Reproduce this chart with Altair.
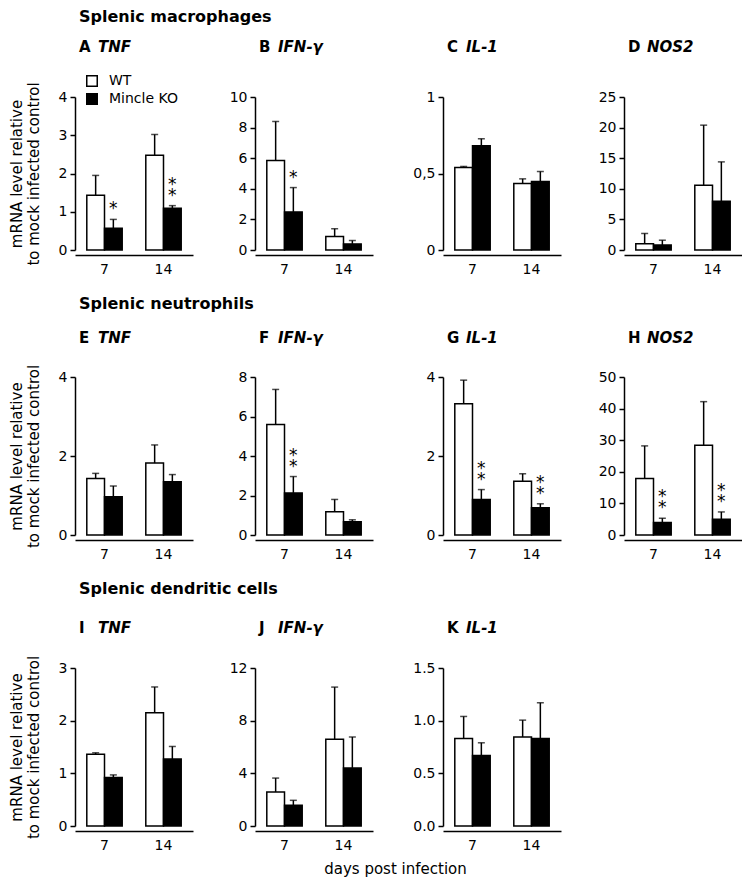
import altair as alt
import pandas as pd

FONT = "DejaVu Sans"

row_titles = ["Splenic macrophages", "Splenic neutrophils", "Splenic dendritic cells"]
letters = ["A", "B", "C", "D", "E", "F", "G", "H", "I", "J", "K"]
genes = ["TNF", "IFN-γ", "IL-1", "NOS2", "TNF", "IFN-γ", "IL-1", "NOS2", "TNF", "IFN-γ", "IL-1"]
days = ["7", "14"]
groups = ["WT", "Mincle KO"]

# mean values per panel A..K
wt_day7 = [1.43, 5.85, 0.539, 1.04, 1.43, 5.59, 3.32, 17.9, 1.36, 2.59, 0.83]
ko_day7 = [0.57, 2.49, 0.681, 0.82, 0.97, 2.13, 0.90, 3.95, 0.92, 1.57, 0.67]
wt_day14 = [2.48, 0.88, 0.434, 10.6, 1.82, 1.18, 1.36, 28.4, 2.15, 6.58, 0.845]
ko_day14 = [1.09, 0.40, 0.448, 7.97, 1.35, 0.67, 0.69, 5.0, 1.27, 4.41, 0.83]
# upper error bars
wt_err7 = [0.52, 2.55, 0.007, 1.66, 0.13, 1.78, 0.60, 10.3, 0.03, 1.05, 0.21]
ko_err7 = [0.23, 1.59, 0.046, 0.78, 0.27, 0.83, 0.25, 1.35, 0.05, 0.38, 0.12]
wt_err14 = [0.54, 0.51, 0.031, 9.8, 0.46, 0.62, 0.19, 13.8, 0.49, 3.97, 0.16]
ko_err14 = [0.07, 0.22, 0.065, 6.43, 0.18, 0.10, 0.10, 2.3, 0.24, 2.35, 0.34]
# significance marks on the Mincle KO bars
sig_day7 = ["*", "*", "", "", "", "**", "**", "**", "", "", ""]
sig_day14 = ["**", "", "", "", "", "", "**", "**", "", "", ""]

y_max = [4, 10, 1, 25, 4, 8, 4, 50, 3, 12, 1.5]
y_ticks = [
    [0, 1, 2, 3, 4],
    [0, 2, 4, 6, 8, 10],
    [0, 0.5, 1],
    [0, 5, 10, 15, 20, 25],
    [0, 2, 4],
    [0, 2, 4, 6, 8],
    [0, 2, 4],
    [0, 10, 20, 30, 40, 50],
    [0, 1, 2, 3],
    [0, 4, 8, 12],
    [0, 0.5, 1, 1.5],
]
y_label_style = ["int", "int", "comma", "int", "int", "int", "int", "int", "int", "int", "dec1"]
y_title = ["mRNA level relative", "to mock infected control"]
x_title = "days post infection"

PLOT_W = 118
row_heights = [153, 158, 158]
title_y = [-45, -34, -35]
col_extent = [26, 42, 50, 43]


def make_panel(i, height, ty, extent, first_col=False, legend=False):
    df = pd.DataFrame({
        "day": ["7", "7", "14", "14"],
        "group": [groups[0], groups[1], groups[0], groups[1]],
        "mean": [wt_day7[i], ko_day7[i], wt_day14[i], ko_day14[i]],
        "err": [wt_err7[i], ko_err7[i], wt_err14[i], ko_err14[i]],
        "sig": ["", sig_day7[i], "", sig_day14[i]],
    })
    df["top"] = df["mean"] + df["err"]

    x_axis = alt.Axis(title=None, labelAngle=0, ticks=False, tickSize=0, domain=True,
                      domainColor="black", domainWidth=1.5, offset=5,
                      labelFont=FONT, labelFontSize=14, labelColor="black", labelPadding=7)
    xenc = alt.X("day:N", sort=days,
                 scale=alt.Scale(domain=days, paddingInner=0.4, paddingOuter=0.2),
                 axis=x_axis)
    xoff = alt.XOffset("group:N", sort=groups,
                       scale=alt.Scale(domain=groups, paddingInner=0, paddingOuter=0))
    yscale = alt.Scale(domain=[0, y_max[i]], nice=False, zero=True)

    axis_kw = dict(values=y_ticks[i], grid=False, domain=True, domainColor="black",
                   domainWidth=1.5, ticks=True, tickColor="black", tickWidth=1.5,
                   tickSize=5, labelFont=FONT, labelFontSize=14, labelColor="black",
                   labelPadding=3, minExtent=extent, maxExtent=extent)
    style = y_label_style[i]
    if style == "comma":
        axis_kw["labelExpr"] = "replace(format(datum.value, '~g'), '.', ',')"
    elif style == "dec1":
        axis_kw["format"] = ".1f"
    else:
        axis_kw["format"] = "d"
    if first_col:
        axis_kw.update(title=y_title, titleFont=FONT, titleFontSize=15,
                       titleFontWeight="normal", titleColor="black", titlePadding=8)
    else:
        axis_kw["title"] = None
    y_axis = alt.Axis(**axis_kw)

    if legend:
        leg = alt.Legend(orient="none", legendX=10, legendY=-23, title=None,
                         direction="vertical", symbolType="square", symbolSize=110,
                         symbolStrokeColor="black", symbolStrokeWidth=1.5,
                         labelFont=FONT, labelFontSize=14, labelColor="black",
                         rowPadding=0, labelOffset=10, padding=0)
    else:
        leg = None

    base = alt.Chart(df).encode(x=xenc, xOffset=xoff)
    bars = base.mark_bar(stroke="black", strokeWidth=1.5).encode(
        y=alt.Y("mean:Q", scale=yscale, axis=y_axis),
        fill=alt.Fill("group:N", sort=groups,
                      scale=alt.Scale(domain=groups, range=["white", "black"]),
                      legend=leg),
    )
    rules = base.mark_rule(color="black", strokeWidth=1.5).encode(
        y=alt.Y("mean:Q", axis=y_axis), y2="top:Q")
    caps = base.mark_tick(color="black", thickness=1.5, size=7).encode(
        y=alt.Y("top:Q", axis=y_axis))
    star_lo = (base.transform_filter("length(datum.sig) >= 1")
               .transform_calculate(s="substring(datum.sig, 0, 1)")
               .mark_text(baseline="middle", align="center", fontSize=17, font=FONT,
                          color="black", dy=-10)
               .encode(y=alt.Y("top:Q", axis=y_axis), text="s:N"))
    star_hi = (base.transform_filter("length(datum.sig) >= 2")
               .transform_calculate(s="substring(datum.sig, 1, 2)")
               .mark_text(baseline="middle", align="center", fontSize=17, font=FONT,
                          color="black", dy=-21)
               .encode(y=alt.Y("top:Q", axis=y_axis), text="s:N"))

    tdf = pd.DataFrame({"letter": [letters[i]], "gene": [genes[i]]})
    t1 = alt.Chart(tdf).mark_text(align="left", baseline="alphabetic", fontSize=15,
                                  fontWeight="bold", font=FONT, color="black").encode(
        text="letter:N", x=alt.value(4), y=alt.value(ty))
    t2 = alt.Chart(tdf).mark_text(align="left", baseline="alphabetic", fontSize=15,
                                  fontWeight="bold", fontStyle="italic", font=FONT,
                                  color="black").encode(
        text="gene:N", x=alt.value(23), y=alt.value(ty))

    return alt.layer(bars, rules, caps, star_lo, star_hi, t1, t2).properties(
        width=PLOT_W, height=height)


rows_idx = [[0, 1, 2, 3], [4, 5, 6, 7], [8, 9, 10]]
row_offsets = [15, 19, 24]
rows = []
for r, idxs in enumerate(rows_idx):
    panels = [make_panel(i, row_heights[r], title_y[r], col_extent[c],
                         first_col=(c == 0), legend=(i == 0))
              for c, i in enumerate(idxs)]
    row = alt.hconcat(*panels, spacing=20).properties(
        title=alt.TitleParams(row_titles[r], anchor="start", frame="group", dx=4,
                              offset=row_offsets[r], fontSize=16, font=FONT,
                              fontWeight="bold", color="black")
    ).resolve_scale(fill="independent").resolve_legend(fill="independent")
    rows.append(row)

chart = alt.vconcat(*rows, spacing=20).properties(
    title=alt.TitleParams(x_title, orient="bottom", anchor="middle", dx=20, offset=10,
                          fontSize=15, font=FONT, fontWeight="normal", color="black"),
    padding={"left": 1, "top": 1, "right": 0, "bottom": 2},
).resolve_scale(fill="independent").resolve_legend(fill="independent").configure_view(
    stroke=None
)

chart.save("out.html", embed_options={"renderer": "svg", "actions": False})
